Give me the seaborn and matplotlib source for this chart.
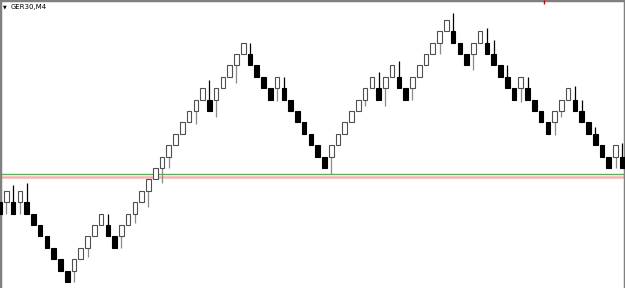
import matplotlib
matplotlib.use("Agg")
import matplotlib.pyplot as plt
import seaborn as sns
import numpy as np

# Renko bricks (in brick levels)
opens = [7, 7, 7, 7, 7, 6, 5, 4, 3, 2, 1, 1, 2, 3, 4, 5, 5, 4, 4, 5,
         6, 7, 8, 9, 10, 11, 12, 13, 14, 15, 16, 16, 16, 17, 18, 19, 20, 20, 19, 18,
         17, 17, 17, 16, 15, 14, 13, 12, 11, 11, 12, 13, 14, 15, 16, 17, 17, 17, 18, 18,
         17, 17, 18, 19, 20, 21, 22, 22, 21, 20, 20, 21, 21, 20, 19, 18, 17, 17, 17, 16,
         15, 14, 14, 15, 16, 16, 15, 14, 13, 12, 11, 11, 11]
closes = [6, 8, 6, 8, 6, 5, 4, 3, 2, 1, 0, 2, 3, 4, 5, 6, 4, 3, 5, 6,
          7, 8, 9, 10, 11, 12, 13, 14, 15, 16, 17, 15, 17, 18, 19, 20, 21, 19, 18, 17,
          16, 18, 16, 15, 14, 13, 12, 11, 10, 12, 13, 14, 15, 16, 17, 18, 16, 18, 19, 17,
          16, 18, 19, 20, 21, 22, 23, 21, 20, 19, 21, 22, 20, 19, 18, 17, 16, 18, 16, 15,
          14, 13, 15, 16, 17, 15, 14, 13, 12, 11, 10, 12, 10]
# extra wick extremes (brick index -> value)
wick_high = {2: 8.5, 4: 8.7, 16: 6.0, 31: 17.7, 37: 21.0, 42: 18.0, 56: 18.4,
             59: 19.4, 67: 23.6, 72: 22.3, 73: 21.2, 75: 19.0, 78: 18.0,
             85: 17.2, 86: 16.0, 88: 13.6, 92: 12.2}
wick_low = {1: 6.0, 3: 6.0, 11: 0.0, 13: 2.2, 18: 3.0, 20: 5.2, 22: 6.6,
            24: 8.7, 25: 10.0, 29: 13.9, 32: 14.5, 35: 17.5, 41: 15.9, 49: 9.5,
            54: 15.4, 57: 15.4, 61: 16.0, 65: 20.0, 70: 18.6, 77: 15.8,
            82: 12.9, 83: 14.5, 91: 10.0}
green_level = 9.43
red_level = 9.25
title = "GER30,M4"

sns.set_theme(style="white")
plt.rcParams['font.family'] = ['DejaVu Sans']

fig = plt.figure(figsize=(6.25, 2.88), dpi=100)
ax = fig.add_axes([0, 0, 1, 1])
ax.set_facecolor("white")

n = len(opens)
x = np.arange(n) - 0.074
o = np.array(opens, float)
c = np.array(closes, float)
lo = np.minimum(o, c)
hi = np.maximum(o, c)
lows = np.array([wick_low.get(i, lo[i]) for i in range(n)])
highs = np.array([wick_high.get(i, hi[i]) for i in range(n)])
up = c > o

ax.axhline(red_level, color="#f6b3b3", lw=1.8, zorder=1)
ax.axhline(green_level, color="#5cae5c", lw=1.0, zorder=1)

for i in range(n):
    col = "#8a8a8a" if up[i] else "#000000"
    if lows[i] < lo[i]:
        ax.vlines(x[i], lows[i], lo[i], color=col, lw=0.9, zorder=2)
    if highs[i] > hi[i]:
        ax.vlines(x[i], hi[i], highs[i], color=col, lw=0.9, zorder=2)

ax.bar(x[up], (hi - lo)[up], bottom=lo[up], width=0.68, color="white",
       edgecolor="#505050", linewidth=0.8, zorder=3)
ax.bar(x[~up], (hi - lo)[~up], bottom=lo[~up], width=0.68, color="black",
       edgecolor="black", linewidth=0.8, zorder=3)

# small red mark at top
ax.plot([80.3], [24.6], marker="|", color="#cc0000", ms=3, mew=1, zorder=4)

ax.set_xlim(0, 92.32)
ax.set_ylim(-0.53, 24.74)
ax.set_xticks([])
ax.set_yticks([])
for side in ["top", "left", "right"]:
    ax.spines[side].set_visible(True)
    ax.spines[side].set_color("#808080")
    ax.spines[side].set_linewidth(2.5)
ax.spines["bottom"].set_visible(False)

ax.text(0.005, 0.976, "\u25BC", transform=ax.transAxes, fontsize=3.5,
        va="center", ha="left", color="black")
ax.text(0.017, 0.976, title, transform=ax.transAxes, fontsize=5,
        va="center", ha="left", color="black")

fig.savefig("out.png", dpi=100)
